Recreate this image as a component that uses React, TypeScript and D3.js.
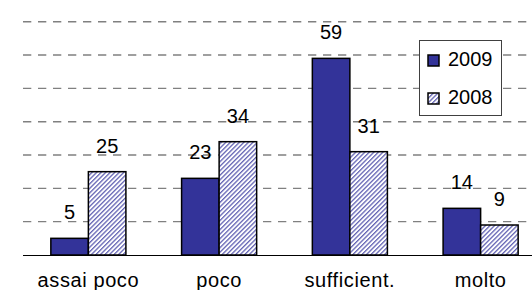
import React, { useRef, useEffect } from 'react';
import * as d3 from 'd3';

// categories and series
const categories = ['assai poco', 'poco', 'sufficient.', 'molto'];
const seriesNames = ['2009', '2008'];
const values2009 = [5, 23, 59, 14];
const values2008 = [25, 34, 31, 9];
const gridTicks = [10, 20, 30, 40, 50, 60, 70];

const App = () => {
  const ref = useRef(null);
  const width = 532;
  const height = 290;

  useEffect(() => {
    const svg = d3.select(ref.current);
    svg.selectAll('*').remove();

    const font = '"Liberation Sans", Arial, sans-serif';
    const fill2009 = '#333399';

    // hatch pattern for 2008
    const defs = svg.append('defs');
    const pat = defs.append('pattern')
      .attr('id', 'hatch')
      .attr('patternUnits', 'userSpaceOnUse')
      .attr('width', 3.2)
      .attr('height', 3.2)
      .attr('patternTransform', 'rotate(45)');
    pat.append('rect').attr('width', 3.2).attr('height', 3.2).attr('fill', '#ffffff');
    pat.append('rect').attr('x', 0).attr('y', 0).attr('width', 1.3).attr('height', 3.2).attr('fill', '#6464b4');

    const left = 23;
    const baseY = 255;

    const x = d3.scaleBand()
      .domain(categories)
      .range([left, 546])
      .paddingInner(0.426)
      .paddingOuter(0.213);

    const xs = d3.scaleBand()
      .domain(seriesNames)
      .range([0, x.bandwidth()]);

    const y = d3.scaleLinear()
      .domain([0, 70])
      .range([baseY, 21.7]);

    // Gridlines
    svg.append('g')
      .selectAll('line')
      .data(gridTicks)
      .join('line')
      .attr('x1', left)
      .attr('x2', width)
      .attr('y1', d => y(d))
      .attr('y2', d => y(d))
      .attr('stroke', '#808080')
      .attr('stroke-width', 1.4)
      .attr('stroke-dasharray', '8.3,6.7');

    // Baseline
    svg.append('line')
      .attr('x1', left)
      .attr('x2', width)
      .attr('y1', y(0) + 0.5)
      .attr('y2', y(0) + 0.5)
      .attr('stroke', '#000')
      .attr('stroke-width', 1);

    const rows = categories.map((c, i) => ({ c, v: [values2009[i], values2008[i]] }));

    const groups = svg.append('g')
      .selectAll('g')
      .data(rows)
      .join('g')
      .attr('transform', d => `translate(${x(d.c)},0)`);

    groups.selectAll('rect')
      .data(d => d.v.map((v, j) => ({ s: seriesNames[j], v })))
      .join('rect')
      .attr('x', d => xs(d.s))
      .attr('y', d => y(d.v))
      .attr('width', xs.bandwidth())
      .attr('height', d => y(0) - y(d.v))
      .attr('fill', d => d.s === '2009' ? fill2009 : 'url(#hatch)')
      .attr('stroke', '#000')
      .attr('stroke-width', 1.5);

    // Value labels
    groups.selectAll('text')
      .data(d => d.v.map((v, j) => ({ s: seriesNames[j], v })))
      .join('text')
      .attr('x', d => xs(d.s) + xs.bandwidth() / 2)
      .attr('y', d => y(d.v) - 19)
      .attr('text-anchor', 'middle')
      .attr('font-family', font)
      .attr('font-size', 20)
      .attr('fill', '#000')
      .text(d => d.v);

    // Category labels
    svg.append('g')
      .selectAll('text')
      .data(categories)
      .join('text')
      .attr('x', d => x(d) + x.bandwidth() / 2)
      .attr('y', baseY + 32)
      .attr('text-anchor', 'middle')
      .attr('font-family', font)
      .attr('font-size', 20)
      .attr('letter-spacing', 0.6)
      .text(d => d);

    // Legend
    const lg = svg.append('g');
    lg.append('rect')
      .attr('x', 419.5)
      .attr('y', 40.5)
      .attr('width', 82)
      .attr('height', 75)
      .attr('fill', '#fff')
      .attr('stroke', '#404040')
      .attr('stroke-width', 1);

    const legendRows = lg.selectAll('g.item')
      .data(seriesNames)
      .join('g')
      .attr('class', 'item')
      .attr('transform', (d, i) => `translate(428, ${55 + i * 38})`);

    legendRows.append('rect')
      .attr('x', 0)
      .attr('y', 0)
      .attr('width', 11)
      .attr('height', 11)
      .attr('fill', d => d === '2009' ? fill2009 : 'url(#hatch)')
      .attr('stroke', '#000')
      .attr('stroke-width', 1.5);

    legendRows.append('text')
      .attr('x', 20)
      .attr('y', 11)
      .attr('font-family', font)
      .attr('font-size', 20)
      .text(d => d);
  }, []);

  return <svg ref={ref} width={width} height={height} style={{ position: 'absolute', left: 0, top: 0 }} />;
};

export default App;
